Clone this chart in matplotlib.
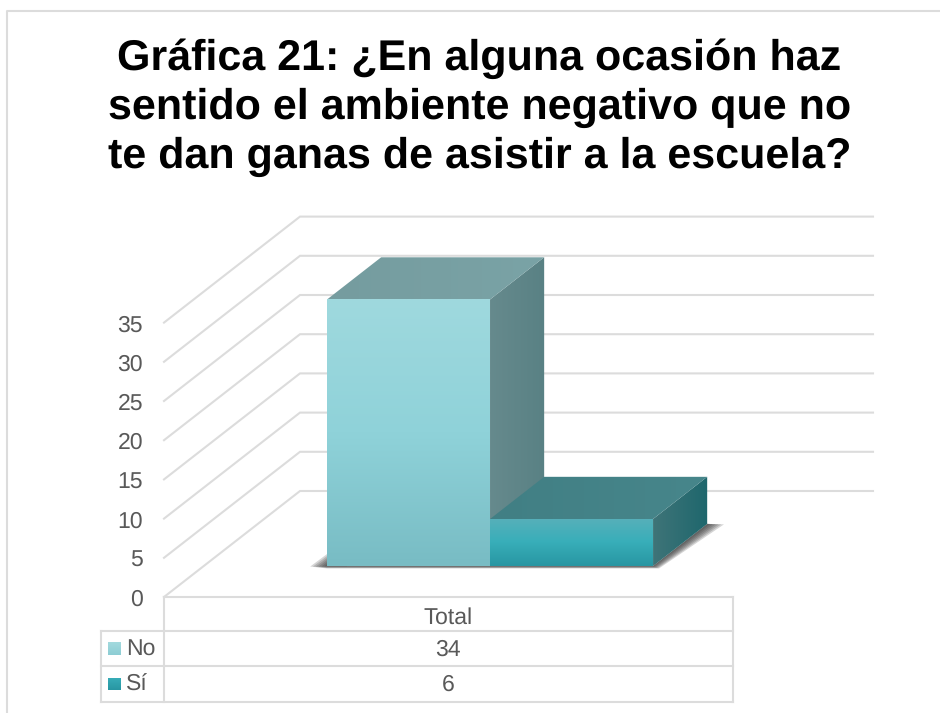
import numpy as np
import matplotlib
matplotlib.use("Agg")
import matplotlib.pyplot as plt
from matplotlib.colors import to_rgb
from matplotlib.patches import Polygon

plt.rcParams['font.family'] = ['Liberation Sans', 'DejaVu Sans']
plt.rcParams['text.hinting'] = 'no_hinting'
plt.rcParams['text.hinting_factor'] = 1

titulo = "Gráfica 21: ¿En alguna ocasión haz\nsentido el ambiente negativo que no\nte dan ganas de asistir a la escuela?"
categoria = "Total"
series = ["No", "Sí"]
valores = [34, 6]
ticks = [0, 5, 10, 15, 20, 25, 30, 35]

GRIS = '#dcdcdc'
TEXTO = '#595959'

# escala: todo en pixeles de la imagen
X0, Y0 = 164, 597      # origen frontal
ANCHO = 569            # ancho de la categoria
PX_UNIDAD = 7.84
FX, FY = 136, 106      # fondo del piso


def proy(x, v, d):
    return (X0 + ANCHO*x + FX*d, Y0 - PX_UNIDAD*v - FY*d)


def degradado(ax, verts, colores, vertical=True):
    verts = np.array(verts)
    x0, x1 = verts[:, 0].min(), verts[:, 0].max()
    y0, y1 = verts[:, 1].min(), verts[:, 1].max()
    c = [to_rgb(k) for k in colores]
    t = np.linspace(0, 1, 128)
    pos = np.linspace(0, 1, len(c))
    img = np.stack([np.interp(t, pos, [k[i] for k in c]) for i in range(3)], axis=1)
    img = img[:, None, :] if vertical else img[None, :, :]
    im = ax.imshow(img, extent=(x0, x1, y1, y0), aspect='auto', zorder=3, interpolation='bilinear')
    im.set_clip_path(Polygon(verts, closed=True, transform=ax.transData))


fig = plt.figure(figsize=(9.4, 7.13), dpi=100)
ax = fig.add_axes([0, 0, 1, 1])
ax.axis('off')

# marco
ax.plot([7, 7, 945], [720, 11, 11], color=GRIS, lw=1.5, zorder=1)

ax.text(479.5, 108, titulo, ha='center', va='center', fontsize=30.7, fontweight='bold',
        color='black', linespacing=1.275)

# rejilla
for t in ticks:
    a = proy(0, t, 0)
    b = proy(0, t, 1)
    ax.plot([a[0], b[0], 873], [a[1], b[1], b[1]], color=GRIS, lw=1.5, zorder=1, solid_joinstyle='miter')
    ax.text(a[0]-21, a[1]+3, str(t), ha='right', va='center', fontsize=16.5, color=TEXTO)

# barras
x_ini = 0.2167
x_anc = 0.2865
d_ini, d_fin = 0.292, 0.69
estilos = [
    dict(frente=['#9fd9de', '#8fd2d9', '#78bcc4'], arriba=['#759c9f', '#7aa3a6'], lado=['#668a8d', '#598184']),
    dict(frente=['#57b0ba', '#38aeb9', '#2896a2'], arriba=['#417f84', '#47868b'], lado=['#3f7478', '#1e676d']),
]

# sombra
p0 = proy(x_ini, 0, d_ini)
p1 = proy(x_ini+2*x_anc, 0, d_ini)
p2 = proy(x_ini+2*x_anc, 0, d_fin)
for k in [6, 5, 4, 3, 2, 1]:
    ax.add_patch(Polygon([(p0[0]-2.8*k, p0[1]+0.5), (p0[0], p0[1]-2*k), (p0[0]+20, p0[1]-2*k), (p0[0]+20, p0[1]),
                          p1, p2, (p2[0]+2.8*k, p2[1]+0.5),
                          (p1[0]+k, p1[1]+k*0.4), (p0[0], p0[1]+k*0.4)],
                         closed=True, fc='#303030', ec='none', alpha=0.2, zorder=2))

for i, v in enumerate(valores):
    xa = x_ini + i*x_anc
    xb = xa + x_anc
    e = estilos[i]
    arriba = [proy(xa, v, d_ini), proy(xb, v, d_ini), proy(xb, v, d_fin), proy(xa, v, d_fin)]
    lado = [proy(xb, 0, d_ini), proy(xb, v, d_ini), proy(xb, v, d_fin), proy(xb, 0, d_fin)]
    frente = [proy(xa, 0, d_ini), proy(xb, 0, d_ini), proy(xb, v, d_ini), proy(xa, v, d_ini)]
    degradado(ax, lado, e['lado'], vertical=False)
    degradado(ax, arriba, e['arriba'], vertical=False)
    degradado(ax, frente, e['frente'])

# tabla de datos
izq, der, med = 101, 732.5, 164
filas = [597, 631, 666, 702]
ax.plot([med, med], [filas[0], filas[3]], color=GRIS, lw=1.5, zorder=1)
ax.plot([der, der], [filas[0], filas[3]], color=GRIS, lw=1.5, zorder=1)
ax.plot([izq, izq], [filas[1], filas[3]], color=GRIS, lw=1.5, zorder=1)
ax.plot([med, der], [filas[0], filas[0]], color=GRIS, lw=1.5, zorder=1)
for y in filas[1:]:
    ax.plot([izq, der], [y, y], color=GRIS, lw=1.5, zorder=1)
centro = (med+der)/2
ax.text(centro, 618, categoria, ha='center', va='center', fontsize=16.5, color=TEXTO)
colores = [['#a3dade', '#8dcdd4'], ['#38aeb9', '#2896a2']]
for i, (s, v) in enumerate(zip(series, valores)):
    ym = (filas[i+1]+filas[i+2])/2
    ax.text(centro, ym+1, str(v), ha='center', va='center', fontsize=16.5, color=TEXTO)
    ax.text(126, ym+1, s, ha='left', va='center', fontsize=16.5, color=TEXTO)
    degradado(ax, [(108, ym-6.5), (121, ym-6.5), (121, ym+6.5), (108, ym+6.5)], colores[i])

ax.set_xlim(0, 940)
ax.set_ylim(713, 0)
fig.savefig("out.png", dpi=100)
